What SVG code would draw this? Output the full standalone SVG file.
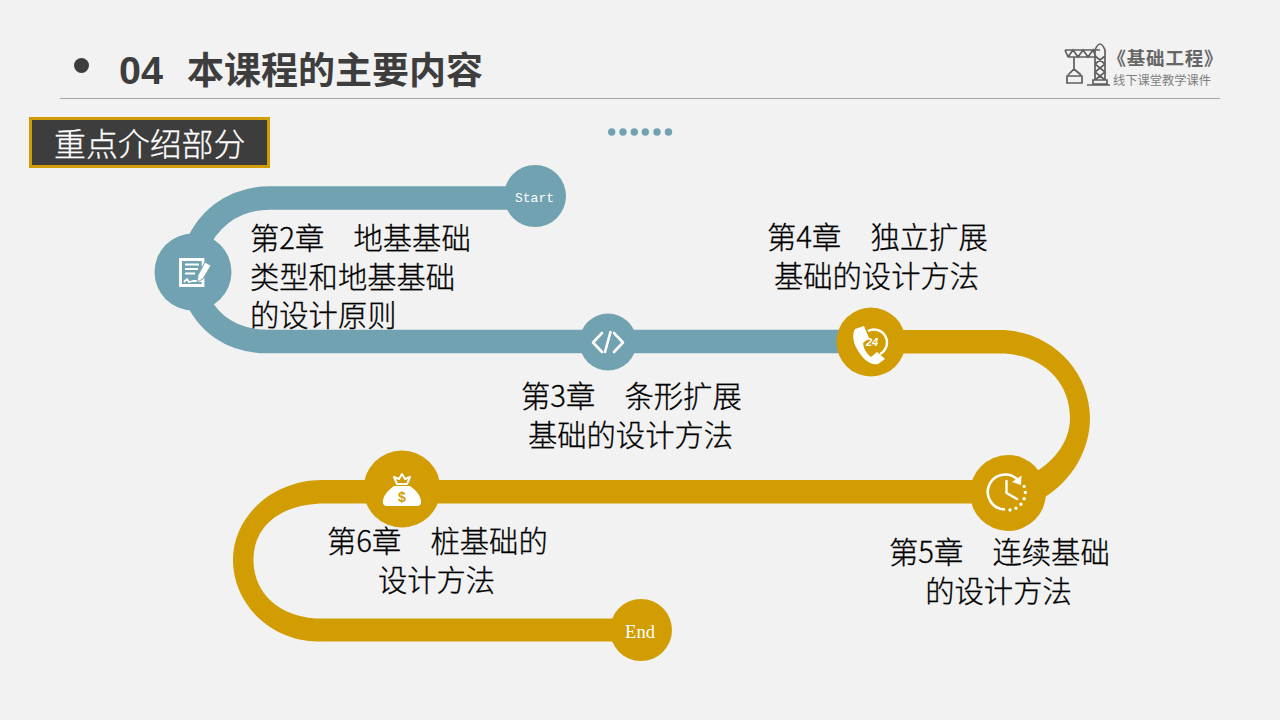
<svg xmlns="http://www.w3.org/2000/svg" width="1280" height="720" viewBox="0 0 1280 720">
<style>
text{font-family:"Noto Sans CJK SC","Noto Sans",sans-serif}
.b{font-size:29.300px;fill:#000;font-weight:300;stroke:#000;stroke-width:.3px}
.m{text-anchor:middle}
.tl{fill:none;stroke:#70a2b2;stroke-width:23.5}
.te{fill:#70a2b2}.go{fill:#d29d03}
.w{fill:none;stroke:#fff;stroke-linecap:round;stroke-linejoin:round}
.lg{fill:none;stroke:#5f5f5f;stroke-width:1.700}
</style>
<rect width="1280" height="720" fill="#f2f2f2"/>
<g id="header">
<circle cx="81.500" cy="65.500" r="7.500" fill="#3d3d3d"/>
<text x="119" y="83.500" style="font-family:'Liberation Sans',sans-serif;font-weight:700;font-size:39.500px" fill="#3d3d3d">04</text>
<text x="187" y="84" font-size="37" font-weight="700" fill="#3d3d3d">本课程的主要内容</text>
<line x1="60" y1="98.500" x2="1220" y2="98.500" stroke="#a6a6a6" stroke-width="1"/>
</g>
<g id="logo">
<path class="lg" d="M1065 50H1100M1068 57H1096M1065 50L1068 57M1068 57L1073 50L1078 57L1083 50L1088 57L1093 50L1096 57M1095 80V50Q1100 38 1105 50V80M1095 56L1105 64L1095 72L1105 80M1105 56L1095 64L1105 72L1095 80M1074 57V69M1068 75L1074 69L1081 75M1067 76H1082V83H1067ZM1093 80H1107V84H1093ZM1087 85H1110"/>
<text x="1107.500" y="65" font-size="18.500" font-weight="700" fill="#666" style="letter-spacing:.8px">《基础工程》</text>
<text x="1113" y="85" font-size="12.250" fill="#7f7f7f">线下课堂教学课件</text>
</g>
<g id="label-box">
<rect x="30.500" y="118.500" width="238" height="48" fill="#3d3d3d" stroke="#d29d03" stroke-width="3"/>
<text x="54" y="156" font-size="31.900" font-weight="300" fill="#fff" stroke="#fff" stroke-width=".3">重点介绍部分</text>
</g>
<g id="dots" class="te">
<circle cx="611.700" cy="132" r="3.700"/><circle cx="623" cy="132" r="3.700"/><circle cx="634.300" cy="132" r="3.700"/><circle cx="645.300" cy="132" r="3.700"/><circle cx="657" cy="132" r="3.700"/><circle cx="668.500" cy="132" r="3.700"/>
</g>
<g id="connectors">
<path class="tl" d="M535 198H270C232 198 205 220 193 255"/>
<path class="tl" d="M193 290C206 324 232 341.500 268 341.500H860"/>
<path class="go" d="M871 330H1000C1050 330 1090 370 1090 418C1090 450 1072 480 1045 497L1034 473C1056 460 1070 440 1070 418C1070 380 1040 353.500 1000 353.500H871Z"/>
<path class="go" d="M1008 480H322C274 480 233 515 233 560C233 605 272 641.500 318 641.500H640V618.500H322C282 618.500 253.500 595 253.500 560C253.500 525 282 503.500 325 503.500H1008Z"/>
</g>
<g id="node-start">
<circle class="te" cx="535" cy="196" r="31"/>
<text class="m" x="534.500" y="202" font-size="13" fill="#fff" style="font-family:'Liberation Mono',monospace">Start</text>
</g>
<g id="node-ch2">
<circle class="te" cx="193" cy="272" r="38.500"/>
<path class="w" stroke-width="2.800" style="stroke-linecap:butt;stroke-linejoin:miter" d="M203 266V259.500H180.500V285.500H203V278"/>
<path class="w" stroke-width="1.800" style="stroke-linecap:butt" d="M185 264.500H199M185 269H198M185 273.500H195M184 282L187 279L189 282L193 281H203"/>
<path d="M205 262L211 265.500L203 279L197 282L198 275Z" fill="#fff" stroke="#70a2b2" stroke-width="1"/>
<text class="b" x="250" y="249">第2章</text><text class="b" x="353.500" y="249">地基基础</text>
<text class="b" x="250" y="288">类型和地基基础</text>
<text class="b" x="250" y="326">的设计原则</text>
</g>
<g id="node-ch3">
<circle class="te" cx="608" cy="342" r="28.500"/>
<path class="w" stroke-width="2.600" d="M602 333L593 342.500L602 352M614 333L623 342.500L614 352M610.500 332L605 352"/>
<text class="b" x="521" y="407">第3章</text><text class="b" x="624.500" y="407">条形扩展</text>
<text class="b m" x="630.500" y="446">基础的设计方法</text>
</g>
<g id="node-ch4">
<circle class="go" cx="871" cy="342" r="34.500"/>
<path fill="#fff" d="M855 329L864 326L869 338L863 343C864 350 867 354 871 357L877 352L885 359L878 364C870 366 862 358 857 349C853 342 852 334 855 329Z"/>
<path class="w" stroke-width="2.400" style="stroke-linecap:butt" d="M868 331A12.500 12.500 0 1 1 880 354"/>
<text x="866" y="346" font-size="11" font-weight="700" font-style="italic" fill="#fff" style="font-family:'Liberation Sans',sans-serif">24</text>
<text class="b" x="767" y="248">第4章</text><text class="b" x="870.500" y="248">独立扩展</text>
<text class="b m" x="876.500" y="287">基础的设计方法</text>
</g>
<g id="node-ch5">
<circle class="go" cx="1008" cy="493" r="38"/>
<path class="w" stroke-width="2.600" style="stroke-linecap:butt" d="M1017 479A17.500 17.500 0 1 0 1005 509.500"/>
<path d="M1021.500 475.500L1021 485L1012 482Z" fill="#fff"/>
<path class="w" stroke-width="2.400" d="M1006.500 481V493L1017 499"/>
<path class="w" stroke-width="3.400" stroke-dasharray="0 6.300" d="M1010 510A17.500 17.500 0 0 0 1024 486"/>
<text class="b" x="889" y="563">第5章</text><text class="b" x="992.500" y="563">连续基础</text>
<text class="b m" x="998.500" y="602">的设计方法</text>
</g>
<g id="node-ch6">
<circle class="go" cx="402" cy="489" r="38.500"/>
<path class="w" stroke-width="2" d="M394 477L399 479L402 474L405 479L410 477L407 484H397Z"/>
<path fill="#fff" d="M394 486H410C416 490 422 497 421 503C421 505 419 506 417 506H387C385 506 383 505 383 503C382 497 388 490 394 486Z"/>
<text class="m" x="402" y="502" font-size="14" font-weight="700" fill="#d29d03" style="font-family:'Liberation Sans',sans-serif">$</text>
<text class="b" x="327" y="552">第6章</text><text class="b" x="430.500" y="552">桩基础的</text>
<text class="b m" x="436.500" y="591">设计方法</text>
</g>
<g id="node-end">
<circle class="go" cx="641" cy="630" r="31"/>
<text class="m" x="640" y="638" font-size="18.500" fill="#fff" style="font-family:'Liberation Serif',serif">End</text>
</g>
</svg>
